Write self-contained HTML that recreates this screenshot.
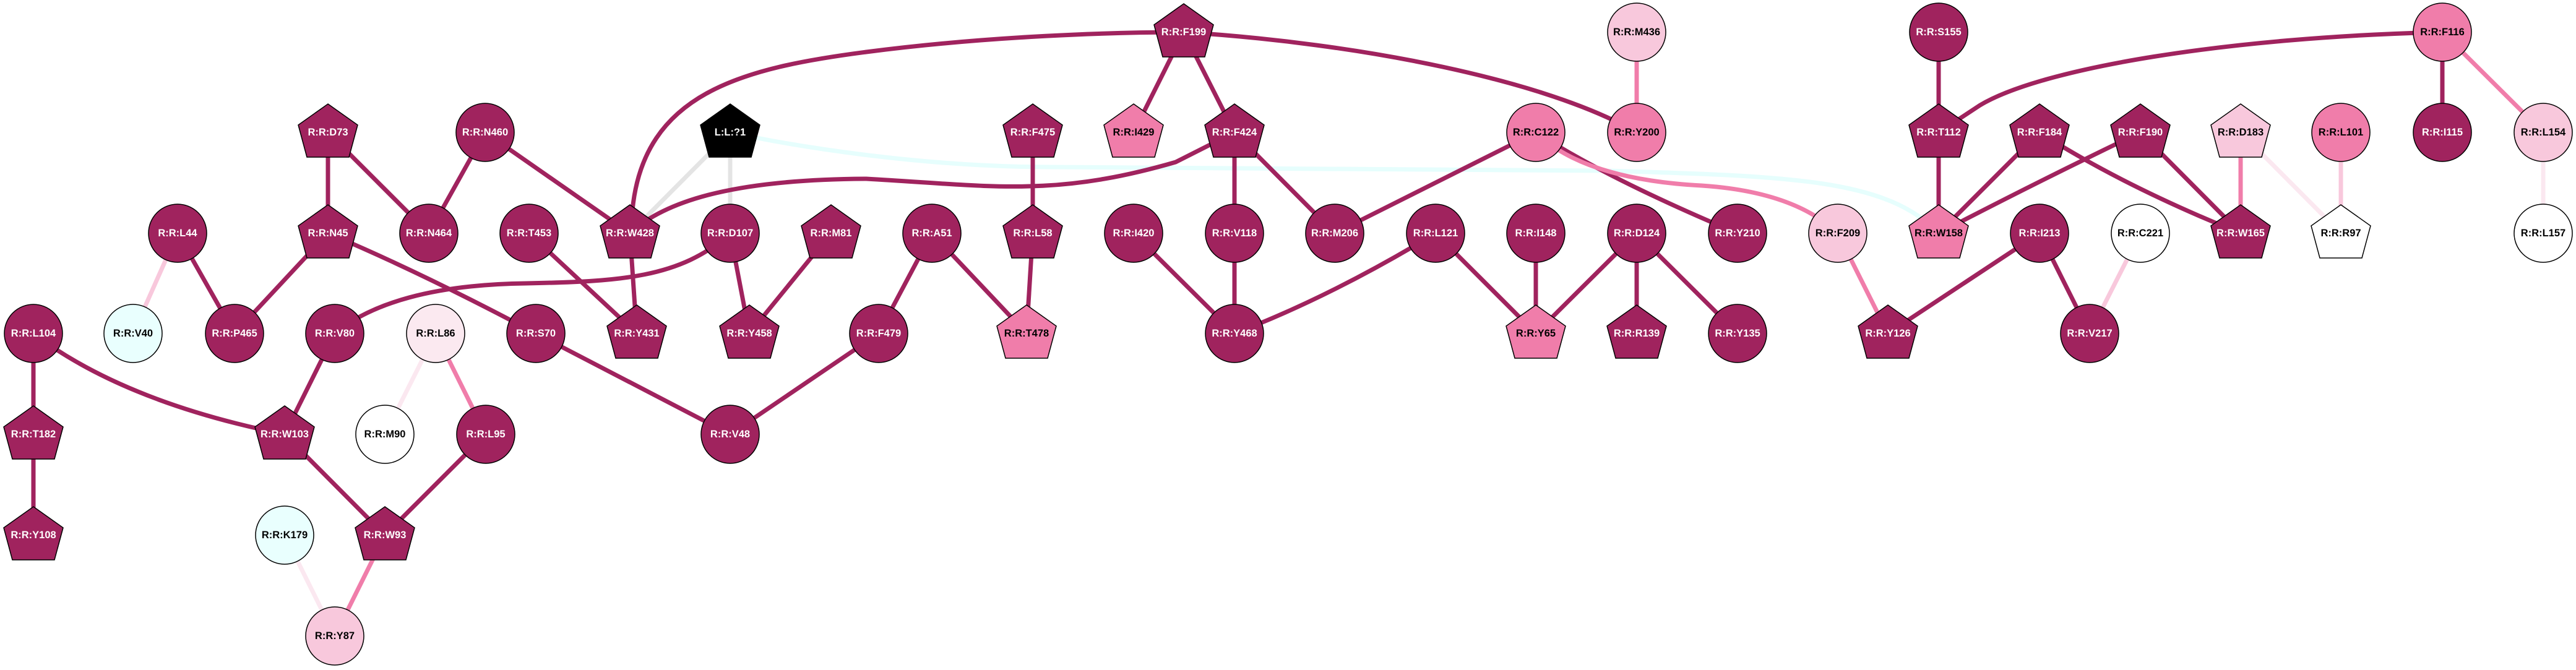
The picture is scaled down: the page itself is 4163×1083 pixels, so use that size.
<!DOCTYPE html>
<html><head><meta charset="utf-8"><style>
html,body{margin:0;padding:0;background:#fff;}
svg{display:block;}
text{font-family:"Liberation Sans",sans-serif;font-weight:bold;font-size:16.5px;text-anchor:middle;dominant-baseline:central;}
.w{fill:#fff}.b{fill:#000}
.e{fill:none;stroke-width:7;stroke-linecap:butt}
.d{stroke:#A0235E}.m{stroke:#F07DAA}.l{stroke:#F8C8DC}.v{stroke:#FBE8F0}.g{stroke:#E4E4E4}.c{stroke:#E6FEFD}
.n{stroke:#000;stroke-width:1.5}
</style></head><body>
<svg width="4163" height="1083" viewBox="0 0 4163 1083" xmlns="http://www.w3.org/2000/svg">
<defs>
<polygon id="pg" points="0,-46 48,-12 34,40 -34,40 -48,-12"/>
</defs>
<!-- edges -->
<g>
<path class="e c" d="M1180,214 C1300,240 1500,270 1700,270 L2600,276 C2900,285 3050,290 3133,377"/>
<path class="e g" d="M1180,214 L1018,377"/>
<path class="e g" d="M1180,214 L1180,377"/>
<path class="e l" d="M287,377 L215,539"/>
<path class="e d" d="M287,377 L379,539"/>
<path class="e d" d="M530,377 L379,539"/>
<path class="e d" d="M530,214 L530,377"/>
<path class="e d" d="M530,214 L693,377"/>
<path class="e d" d="M784,214 L693,377"/>
<path class="e d" d="M784,214 L1018,377"/>
<path class="e d" d="M530,377 Q680,440 866,539"/>
<path class="e d" d="M1180,377 C1100,450 1000,455 850,458 C700,460 600,490 541,539"/>
<path class="e d" d="M855,377 L1029,539"/>
<path class="e d" d="M1018,377 L1029,539"/>
<path class="e d" d="M1180,377 L1211,539"/>
<path class="e d" d="M1343,377 L1211,539"/>
<path class="e d" d="M54,539 L54,702"/>
<path class="e d" d="M54,702 L54,865"/>
<path class="e d" d="M54,539 Q200,650 460,702"/>
<path class="e d" d="M541,539 L460,702"/>
<path class="e v" d="M704,539 L622,702"/>
<path class="e m" d="M704,539 L785,702"/>
<path class="e d" d="M460,702 L622,865"/>
<path class="e d" d="M785,702 L622,865"/>
<path class="e v" d="M460,865 L541,1028"/>
<path class="e m" d="M622,865 L541,1028"/>
<path class="e d" d="M866,539 L1180,702"/>
<path class="e d" d="M1180,702 L1420,539"/>
<path class="e d" d="M1506,377 L1420,539"/>
<path class="e d" d="M1506,377 L1659,539"/>
<path class="e d" d="M1669,377 L1659,539"/>
<path class="e d" d="M1669,214 L1669,377"/>
<path class="e d" d="M1022,340 C1040,150 1200,110 1400,84 S1800,52 1913,52"/>
<path class="e d" d="M1913,52 L1832,214"/>
<path class="e d" d="M1913,52 L1995,214"/>
<path class="e d" d="M1913,52 C2200,70 2500,130 2645,214"/>
<path class="e d" d="M1018,377 C1080,320 1200,290 1400,289 C1600,300 1700,320 1900,262 L1995,214"/>
<path class="e d" d="M1995,214 L1995,377"/>
<path class="e d" d="M1995,214 L2157,377"/>
<path class="e d" d="M1995,377 L1995,539"/>
<path class="e d" d="M1832,377 L1995,539"/>
<path class="e d" d="M2320,377 Q2150,480 1995,539"/>
<path class="e d" d="M2320,377 L2482,539"/>
<path class="e d" d="M2482,377 L2482,539"/>
<path class="e d" d="M2645,377 L2482,539"/>
<path class="e d" d="M2645,377 L2645,539"/>
<path class="e d" d="M2645,377 L2808,539"/>
<path class="e d" d="M2482,214 L2157,377"/>
<path class="e d" d="M2482,214 Q2600,290 2808,377"/>
<path class="e m" d="M2482,214 Q2560,290 2750,300 Q2900,310 2970,377"/>
<path class="e m" d="M2645,52 L2645,214"/>
<path class="e d" d="M3133,52 L3133,214"/>
<path class="e d" d="M3947,52 C3600,60 3300,110 3200,170 L3133,214"/>
<path class="e d" d="M3947,52 L3947,214"/>
<path class="e m" d="M3947,52 L4110,214"/>
<path class="e v" d="M4110,214 L4110,377"/>
<path class="e d" d="M3133,214 L3133,377"/>
<path class="e d" d="M3296,214 L3133,377"/>
<path class="e d" d="M3459,214 Q3300,290 3133,377"/>
<path class="e d" d="M3296,214 Q3430,300 3621,377"/>
<path class="e d" d="M3459,214 L3621,377"/>
<path class="e m" d="M3621,214 L3621,377"/>
<path class="e v" d="M3621,214 L3783,377"/>
<path class="e l" d="M3783,214 L3783,377"/>
<path class="e m" d="M2970,377 L3051,539"/>
<path class="e d" d="M3296,377 L3051,539"/>
<path class="e d" d="M3296,377 L3377,539"/>
<path class="e l" d="M3459,377 L3377,539"/>
</g>
<!-- nodes -->
<g>
<use href="#pg" x="1913" y="52" fill="#A0235E" class="n"/><text class="w" x="1913" y="52">R:R:F199</text>
<circle cx="2645" cy="52" r="47" fill="#F8C8DC" class="n"/><text class="b" x="2645" y="52">R:R:M436</text>
<circle cx="3133" cy="52" r="47" fill="#A0235E" class="n"/><text class="w" x="3133" y="52">R:R:S155</text>
<circle cx="3947" cy="52" r="47" fill="#F07DAA" class="n"/><text class="b" x="3947" y="52">R:R:F116</text>

<use href="#pg" x="530" y="214" fill="#A0235E" class="n"/><text class="w" x="530" y="214">R:R:D73</text>
<circle cx="784" cy="214" r="47" fill="#A0235E" class="n"/><text class="w" x="784" y="214">R:R:N460</text>
<use href="#pg" x="1180" y="214" fill="#000" class="n"/><text class="w" x="1180" y="214">L:L:?1</text>
<use href="#pg" x="1669" y="214" fill="#A0235E" class="n"/><text class="w" x="1669" y="214">R:R:F475</text>
<use href="#pg" x="1832" y="214" fill="#F07DAA" class="n"/><text class="b" x="1832" y="214">R:R:I429</text>
<use href="#pg" x="1995" y="214" fill="#A0235E" class="n"/><text class="w" x="1995" y="214">R:R:F424</text>
<circle cx="2482" cy="214" r="47" fill="#F07DAA" class="n"/><text class="b" x="2482" y="214">R:R:C122</text>
<circle cx="2645" cy="214" r="47" fill="#F07DAA" class="n"/><text class="b" x="2645" y="214">R:R:Y200</text>
<use href="#pg" x="3133" y="214" fill="#A0235E" class="n"/><text class="w" x="3133" y="214">R:R:T112</text>
<use href="#pg" x="3296" y="214" fill="#A0235E" class="n"/><text class="w" x="3296" y="214">R:R:F184</text>
<use href="#pg" x="3459" y="214" fill="#A0235E" class="n"/><text class="w" x="3459" y="214">R:R:F190</text>
<use href="#pg" x="3621" y="214" fill="#F8C8DC" class="n"/><text class="b" x="3621" y="214">R:R:D183</text>
<circle cx="3783" cy="214" r="47" fill="#F07DAA" class="n"/><text class="b" x="3783" y="214">R:R:L101</text>
<circle cx="3947" cy="214" r="47" fill="#A0235E" class="n"/><text class="w" x="3947" y="214">R:R:I115</text>
<circle cx="4110" cy="214" r="47" fill="#F8C8DC" class="n"/><text class="b" x="4110" y="214">R:R:L154</text>

<circle cx="287" cy="377" r="47" fill="#A0235E" class="n"/><text class="w" x="287" y="377">R:R:L44</text>
<use href="#pg" x="530" y="377" fill="#A0235E" class="n"/><text class="w" x="530" y="377">R:R:N45</text>
<circle cx="693" cy="377" r="47" fill="#A0235E" class="n"/><text class="w" x="693" y="377">R:R:N464</text>
<circle cx="855" cy="377" r="47" fill="#A0235E" class="n"/><text class="w" x="855" y="377">R:R:T453</text>
<use href="#pg" x="1018" y="377" fill="#A0235E" class="n"/><text class="w" x="1018" y="377">R:R:W428</text>
<circle cx="1180" cy="377" r="47" fill="#A0235E" class="n"/><text class="w" x="1180" y="377">R:R:D107</text>
<use href="#pg" x="1343" y="377" fill="#A0235E" class="n"/><text class="w" x="1343" y="377">R:R:M81</text>
<circle cx="1506" cy="377" r="47" fill="#A0235E" class="n"/><text class="w" x="1506" y="377">R:R:A51</text>
<use href="#pg" x="1669" y="377" fill="#A0235E" class="n"/><text class="w" x="1669" y="377">R:R:L58</text>
<circle cx="1832" cy="377" r="47" fill="#A0235E" class="n"/><text class="w" x="1832" y="377">R:R:I420</text>
<circle cx="1995" cy="377" r="47" fill="#A0235E" class="n"/><text class="w" x="1995" y="377">R:R:V118</text>
<circle cx="2157" cy="377" r="47" fill="#A0235E" class="n"/><text class="w" x="2157" y="377">R:R:M206</text>
<circle cx="2320" cy="377" r="47" fill="#A0235E" class="n"/><text class="w" x="2320" y="377">R:R:L121</text>
<circle cx="2482" cy="377" r="47" fill="#A0235E" class="n"/><text class="w" x="2482" y="377">R:R:I148</text>
<circle cx="2645" cy="377" r="47" fill="#A0235E" class="n"/><text class="w" x="2645" y="377">R:R:D124</text>
<circle cx="2808" cy="377" r="47" fill="#A0235E" class="n"/><text class="w" x="2808" y="377">R:R:Y210</text>
<circle cx="2970" cy="377" r="47" fill="#F8C8DC" class="n"/><text class="b" x="2970" y="377">R:R:F209</text>
<use href="#pg" x="3133" y="377" fill="#F07DAA" class="n"/><text class="b" x="3133" y="377">R:R:W158</text>
<circle cx="3296" cy="377" r="47" fill="#A0235E" class="n"/><text class="w" x="3296" y="377">R:R:I213</text>
<circle cx="3459" cy="377" r="47" fill="#fff" class="n"/><text class="b" x="3459" y="377">R:R:C221</text>
<use href="#pg" x="3621" y="377" fill="#A0235E" class="n"/><text class="w" x="3621" y="377">R:R:W165</text>
<use href="#pg" x="3783" y="377" fill="#fff" class="n"/><text class="b" x="3783" y="377">R:R:R97</text>
<circle cx="4110" cy="377" r="47" fill="#fff" class="n"/><text class="b" x="4110" y="377">R:R:L157</text>

<circle cx="54" cy="539" r="47" fill="#A0235E" class="n"/><text class="w" x="54" y="539">R:R:L104</text>
<circle cx="215" cy="539" r="47" fill="#E9FFFE" class="n"/><text class="b" x="215" y="539">R:R:V40</text>
<circle cx="379" cy="539" r="47" fill="#A0235E" class="n"/><text class="w" x="379" y="539">R:R:P465</text>
<circle cx="541" cy="539" r="47" fill="#A0235E" class="n"/><text class="w" x="541" y="539">R:R:V80</text>
<circle cx="704" cy="539" r="47" fill="#FBE9F0" class="n"/><text class="b" x="704" y="539">R:R:L86</text>
<circle cx="866" cy="539" r="47" fill="#A0235E" class="n"/><text class="w" x="866" y="539">R:R:S70</text>
<use href="#pg" x="1029" y="539" fill="#A0235E" class="n"/><text class="w" x="1029" y="539">R:R:Y431</text>
<use href="#pg" x="1211" y="539" fill="#A0235E" class="n"/><text class="w" x="1211" y="539">R:R:Y458</text>
<circle cx="1420" cy="539" r="47" fill="#A0235E" class="n"/><text class="w" x="1420" y="539">R:R:F479</text>
<use href="#pg" x="1659" y="539" fill="#F07DAA" class="n"/><text class="b" x="1659" y="539">R:R:T478</text>
<circle cx="1995" cy="539" r="47" fill="#A0235E" class="n"/><text class="w" x="1995" y="539">R:R:Y468</text>
<use href="#pg" x="2482" y="539" fill="#F07DAA" class="n"/><text class="b" x="2482" y="539">R:R:Y65</text>
<use href="#pg" x="2645" y="539" fill="#A0235E" class="n"/><text class="w" x="2645" y="539">R:R:R139</text>
<circle cx="2808" cy="539" r="47" fill="#A0235E" class="n"/><text class="w" x="2808" y="539">R:R:Y135</text>
<use href="#pg" x="3051" y="539" fill="#A0235E" class="n"/><text class="w" x="3051" y="539">R:R:Y126</text>
<circle cx="3377" cy="539" r="47" fill="#A0235E" class="n"/><text class="w" x="3377" y="539">R:R:V217</text>

<use href="#pg" x="54" y="702" fill="#A0235E" class="n"/><text class="w" x="54" y="702">R:R:T182</text>
<use href="#pg" x="460" y="702" fill="#A0235E" class="n"/><text class="w" x="460" y="702">R:R:W103</text>
<circle cx="622" cy="702" r="47" fill="#fff" class="n"/><text class="b" x="622" y="702">R:R:M90</text>
<circle cx="785" cy="702" r="47" fill="#A0235E" class="n"/><text class="w" x="785" y="702">R:R:L95</text>
<circle cx="1180" cy="702" r="47" fill="#A0235E" class="n"/><text class="w" x="1180" y="702">R:R:V48</text>

<use href="#pg" x="54" y="865" fill="#A0235E" class="n"/><text class="w" x="54" y="865">R:R:Y108</text>
<circle cx="460" cy="865" r="47" fill="#E9FFFE" class="n"/><text class="b" x="460" y="865">R:R:K179</text>
<use href="#pg" x="622" y="865" fill="#A0235E" class="n"/><text class="w" x="622" y="865">R:R:W93</text>

<circle cx="541" cy="1028" r="47" fill="#F8C8DC" class="n"/><text class="b" x="541" y="1028">R:R:Y87</text>
</g>
</svg>
</body></html>
